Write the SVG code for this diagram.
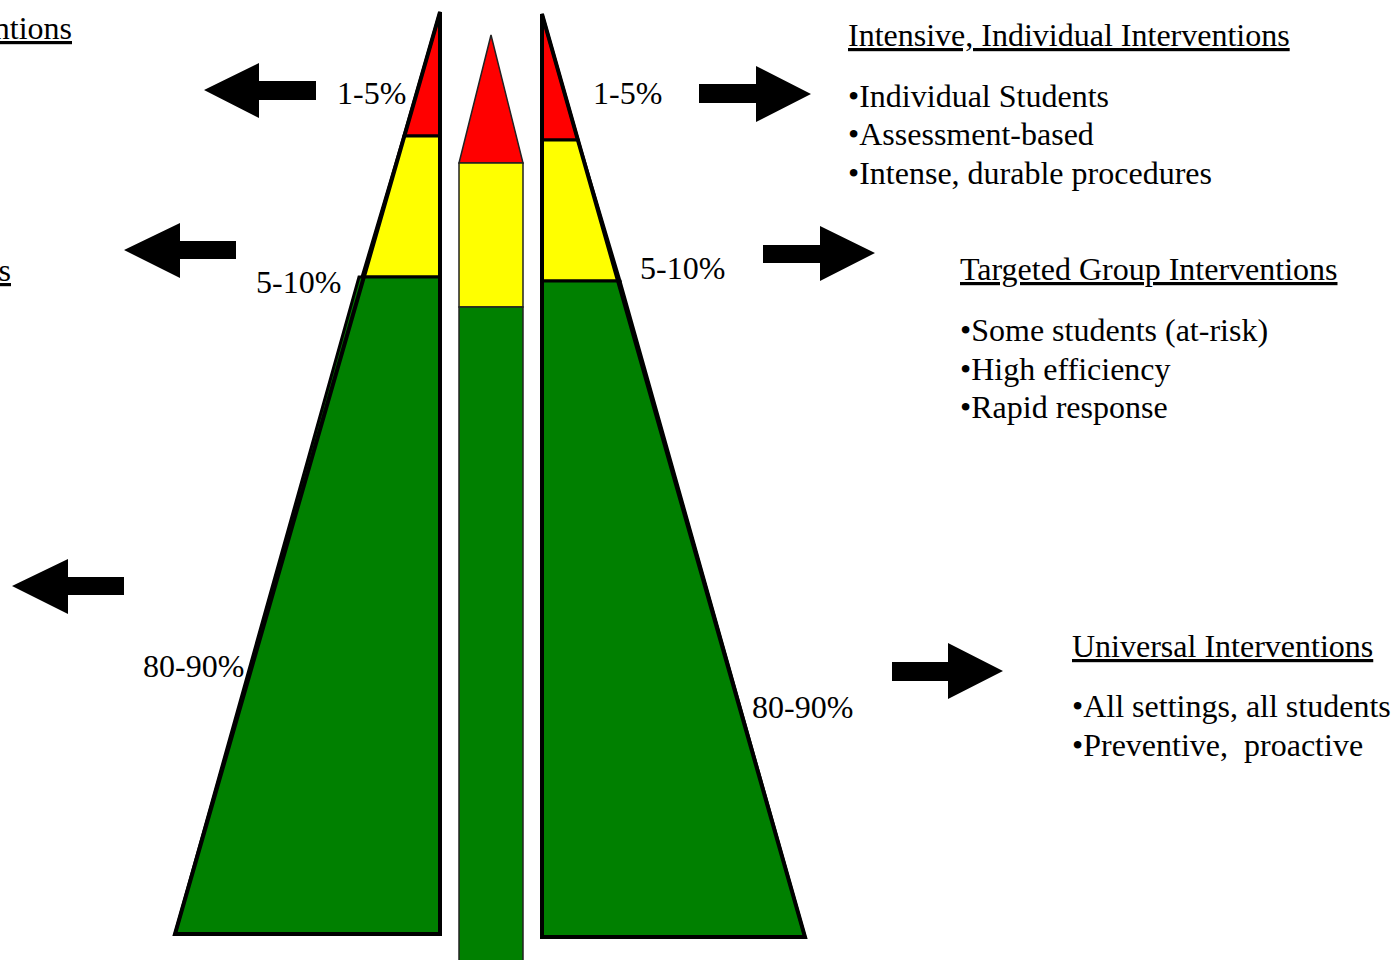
<svg xmlns="http://www.w3.org/2000/svg" width="1393" height="960" viewBox="0 0 1393 960">
  <style>
    .t { font-family: "Liberation Serif", "Times New Roman", serif; font-size: 32px; fill: #000; }
    .u { text-decoration: underline; }
    .red { fill: #FF0000; }
    .yel { fill: #FFFF00; }
    .grn { fill: #008000; }
    .band { stroke: #000; stroke-width: 3; stroke-linejoin: miter; }
    .outline { fill: none; stroke: #000; stroke-width: 4; stroke-linejoin: miter; }
    .col { stroke: #222; stroke-width: 1.5; }
    .arrow { fill: #000; stroke: none; }
  </style>
  <rect x="0" y="0" width="1393" height="960" fill="#fff"/>

  <g id="left-pyramid">
    <polygon class="red band" points="440,12 404,136 440,136"/>
    <polygon class="yel band" points="404,136 440,136 440,277 362,277"/>
    <polygon class="grn band" points="359,277 440,277 440,934 175,934"/>
    <polygon class="outline" points="440,12 440,934 175,934"/>
    <text class="t" x="337" y="104">1-5%</text>
    <text class="t" x="256" y="293">5-10%</text>
    <text class="t" x="143" y="677">80-90%</text>
  </g>

  <g id="center-column">
    <polygon class="red col" points="491,35 523,163 459,163"/>
    <rect class="yel col" x="459" y="163" width="64" height="144"/>
    <rect class="grn col" x="459" y="307" width="64" height="670"/>
  </g>

  <g id="right-pyramid">
    <polygon class="red band" points="542,14 578,140 542,140"/>
    <polygon class="yel band" points="542,140 578,140 620,281 542,281"/>
    <polygon class="grn band" points="542,281 620,281 805,937 542,937"/>
    <polygon class="outline" points="542,14 805,937 542,937"/>
    <text class="t" x="593" y="104">1-5%</text>
    <text class="t" x="640" y="279">5-10%</text>
    <text class="t" x="752" y="718">80-90%</text>
  </g>

  <g id="connectors">
    <polygon class="arrow" points="316,81 259,81 259,63 204,90 259,118 259,100 316,100"/>
    <polygon class="arrow" points="236,241 180,241 180,223 124,250 180,278 180,259 236,259"/>
    <polygon class="arrow" points="124,577 68,577 68,559 12,586 68,614 68,595 124,595"/>
    <polygon class="arrow" points="699,84 756,84 756,66 811,94 756,122 756,103 699,103"/>
    <polygon class="arrow" points="763,245 820,245 820,226 875,253 820,281 820,263 763,263"/>
    <polygon class="arrow" points="892,662 948,662 948,643 1003,671 948,699 948,681 892,681"/>
  </g>

  <g id="left-labels">
    <text class="t u" x="72" y="39" text-anchor="end">ntions</text>
    <text class="t u" x="11" y="281" text-anchor="end">s</text>
  </g>

  <g id="intensive-panel">
    <text class="t u" x="848" y="46">Intensive, Individual Interventions</text>
    <text class="t" x="848" y="107">•Individual Students</text>
    <text class="t" x="848" y="145">•Assessment-based</text>
    <text class="t" x="848" y="184">•Intense, durable procedures</text>
  </g>

  <g id="targeted-panel">
    <text class="t u" x="960" y="280">Targeted Group Interventions</text>
    <text class="t" x="960" y="341">•Some students (at-risk)</text>
    <text class="t" x="960" y="380">•High efficiency</text>
    <text class="t" x="960" y="418">•Rapid response</text>
  </g>

  <g id="universal-panel">
    <text class="t u" x="1072" y="657">Universal Interventions</text>
    <text class="t" x="1072" y="717">•All settings, all students</text>
    <text class="t" x="1072" y="756" xml:space="preserve">•Preventive,  proactive</text>
  </g>
</svg>
